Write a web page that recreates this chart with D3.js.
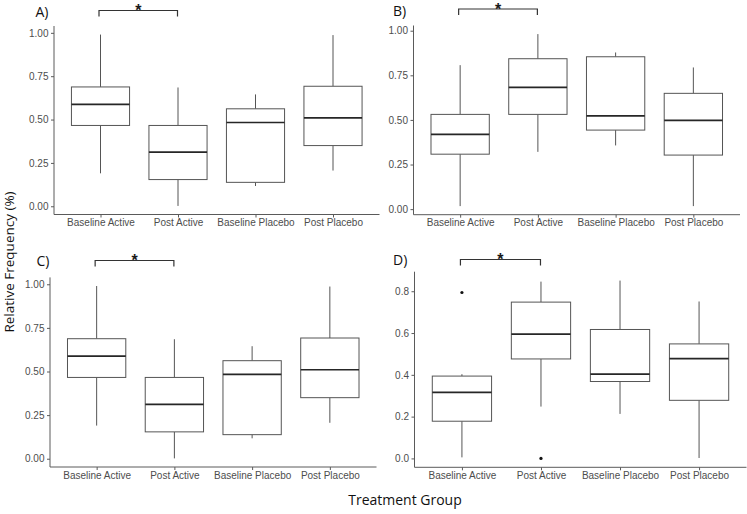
<!DOCTYPE html>
<html>
<head>
<meta charset="utf-8">
<script src="https://cdn.jsdelivr.net/npm/d3@7/dist/d3.min.js"></script>
<style>
  html, body { margin: 0; padding: 0; background: #fff; }
  svg { display: block; }
</style>
</head>
<body>
<svg id="chart" width="747" height="514"></svg>
<script>
// ---- Data ----
const categories = ["Baseline Active", "Post Active", "Baseline Placebo", "Post Placebo"];

// Panel A
const aLower  = [0.19, 0.002, 0.117, 0.206];
const aQ1     = [0.466, 0.154, 0.138, 0.350];
const aMedian = [0.588, 0.312, 0.483, 0.510];
const aQ3     = [0.688, 0.466, 0.562, 0.692];
const aUpper  = [0.990, 0.685, 0.645, 0.987];
const aOutliers = [[], [], [], []];

// Panel B
const bLower  = [0.017, 0.321, 0.357, 0.017];
const bQ1     = [0.308, 0.531, 0.443, 0.303];
const bMedian = [0.419, 0.682, 0.523, 0.497];
const bQ3     = [0.531, 0.843, 0.854, 0.649];
const bUpper  = [0.807, 0.981, 0.878, 0.794];
const bOutliers = [[], [], [], []];

// Panel C
const cLower  = [0.19, 0.002, 0.117, 0.206];
const cQ1     = [0.466, 0.154, 0.138, 0.350];
const cMedian = [0.588, 0.312, 0.483, 0.510];
const cQ3     = [0.688, 0.466, 0.562, 0.692];
const cUpper  = [0.990, 0.685, 0.645, 0.987];
const cOutliers = [[], [], [], []];

// Panel D
const dLower  = [0.005, 0.248, 0.213, 0.002];
const dQ1     = [0.178, 0.476, 0.368, 0.278];
const dMedian = [0.316, 0.595, 0.403, 0.478];
const dQ3     = [0.394, 0.748, 0.617, 0.548];
const dUpper  = [0.403, 0.846, 0.851, 0.751];
const dOutliers = [[0.794], [0.0], [], []];

const ticksQuarter = [0, 0.25, 0.5, 0.75, 1.0];
const tickLabelsQuarter = ["0.00", "0.25", "0.50", "0.75", "1.00"];
const ticksFifth = [0, 0.2, 0.4, 0.6, 0.8];
const tickLabelsFifth = ["0.0", "0.2", "0.4", "0.6", "0.8"];

const panelLabels = ["A)", "B)", "C)", "D)"];
const sigPair = ["Baseline Active", "Post Active"];
const sigLabel = "*";
const xTitle = "Treatment Group";
const yTitle = "Relative Frequency (%)";

// ---- Layout ----
const panels = [
  { label: panelLabels[0], lower: aLower, q1: aQ1, med: aMedian, q3: aQ3, upper: aUpper, out: aOutliers,
    ticks: ticksQuarter, tickLabels: tickLabelsQuarter,
    left: 54, right: 379.5, top: 26, bottom: 214.5, lx: 35.5, ly: 17, by: 10.5 },
  { label: panelLabels[1], lower: bLower, q1: bQ1, med: bMedian, q3: bQ3, upper: bUpper, out: bOutliers,
    ticks: ticksQuarter, tickLabels: tickLabelsQuarter,
    left: 413.5, right: 740, top: 25.5, bottom: 214.7, lx: 393, ly: 15.5, by: 9 },
  { label: panelLabels[2], lower: cLower, q1: cQ1, med: cMedian, q3: cQ3, upper: cUpper, out: cOutliers,
    ticks: ticksQuarter, tickLabels: tickLabelsQuarter,
    left: 50, right: 376.5, top: 277.4, bottom: 467, lx: 36.5, ly: 265.5, by: 260.5 },
  { label: panelLabels[3], lower: dLower, q1: dQ1, med: dMedian, q3: dQ3, upper: dUpper, out: dOutliers,
    ticks: ticksFifth, tickLabels: tickLabelsFifth,
    left: 414.5, right: 746.5, top: 271.7, bottom: 467.3, lx: 393, ly: 264.5, by: 259.5 }
];

const svg = d3.select("#chart");
const axisColor = "#5a5a5a";
const textColor = "#4d4d4d";
const boxColor = "#555";
const medColor = "#262626";

panels.forEach(p => {
  const g = svg.append("g");
  const x = d3.scalePoint().domain(categories).range([p.left, p.right]).padding(0.6);
  const allVals = p.lower.concat(p.upper, ...p.out);
  const lo = d3.min(allVals), hi = d3.max(allVals);
  const r = hi - lo;
  const y = d3.scaleLinear().domain([lo - 0.05 * r, hi + 0.05 * r]).range([p.bottom, p.top]);
  const bw = x.step() * 0.75;

  categories.forEach((c, i) => {
    g.append("line").attr("x1", x(c)).attr("x2", x(c))
      .attr("y1", y(p.upper[i])).attr("y2", y(p.q3[i]))
      .attr("stroke", boxColor).attr("stroke-width", 1);
    g.append("line").attr("x1", x(c)).attr("x2", x(c))
      .attr("y1", y(p.q1[i])).attr("y2", y(p.lower[i]))
      .attr("stroke", boxColor).attr("stroke-width", 1);
    g.append("rect").attr("x", x(c) - bw / 2).attr("width", bw)
      .attr("y", y(p.q3[i])).attr("height", y(p.q1[i]) - y(p.q3[i]))
      .attr("fill", "#fff").attr("stroke", boxColor).attr("stroke-width", 1);
    g.append("line").attr("x1", x(c) - bw / 2).attr("x2", x(c) + bw / 2)
      .attr("y1", y(p.med[i])).attr("y2", y(p.med[i]))
      .attr("stroke", medColor).attr("stroke-width", 1.7);
    p.out[i].forEach(v => {
      g.append("circle").attr("cx", x(c)).attr("cy", y(v)).attr("r", 1.6).attr("fill", "#111");
    });
  });

  const yAxis = d3.axisLeft(y).tickValues(p.ticks)
    .tickFormat((d, i) => p.tickLabels[i]).tickSize(3).tickPadding(2.5);
  const ya = g.append("g").attr("transform", `translate(${p.left},0)`).call(yAxis);
  const xAxis = d3.axisBottom(x).tickSize(3).tickPadding(1.5);
  const xa = g.append("g").attr("transform", `translate(0,${p.bottom})`).call(xAxis);
  [ya, xa].forEach(a => {
    a.attr("font-family", "'Liberation Sans', Arial, sans-serif").attr("font-size", 10);
    a.select(".domain").remove();
    a.selectAll(".tick line").attr("stroke", axisColor);
    a.selectAll(".tick text").attr("fill", textColor);
  });
  g.append("line").attr("x1", p.left).attr("x2", p.left).attr("y1", p.top).attr("y2", p.bottom)
    .attr("stroke", axisColor).attr("stroke-width", 1);
  g.append("line").attr("x1", p.left).attr("x2", p.right).attr("y1", p.bottom).attr("y2", p.bottom)
    .attr("stroke", axisColor).attr("stroke-width", 1);

  g.append("text").attr("x", p.lx).attr("y", p.ly).text(p.label)
    .attr("font-family", "'Open Sans', sans-serif").attr("font-size", 14).attr("fill", "#111");

  const x1 = x(sigPair[0]) - 1.5, x2 = x(sigPair[1]) - 0.5;
  g.append("path")
    .attr("d", `M${x1},${p.by + 6}V${p.by}H${x2}V${p.by + 6}`)
    .attr("fill", "none").attr("stroke", "#333").attr("stroke-width", 1.2);
  g.append("text").attr("x", (x1 + x2) / 2).attr("y", p.by + 5.6).attr("text-anchor", "middle")
    .text(sigLabel).attr("font-family", "'Liberation Sans', Arial, sans-serif").attr("font-size", 16)
    .attr("font-weight", "bold").attr("fill", "#1a1a1a");
});

svg.append("text").attr("x", 405).attr("y", 505).attr("text-anchor", "middle")
  .text(xTitle).attr("font-family", "'Open Sans', sans-serif").attr("font-size", 14).attr("fill", "#111");
svg.append("text").attr("transform", "translate(14,262) rotate(-90)").attr("text-anchor", "middle")
  .text(yTitle).attr("font-family", "'Open Sans', sans-serif").attr("font-size", 13.5).attr("fill", "#111");
</script>
</body>
</html>
